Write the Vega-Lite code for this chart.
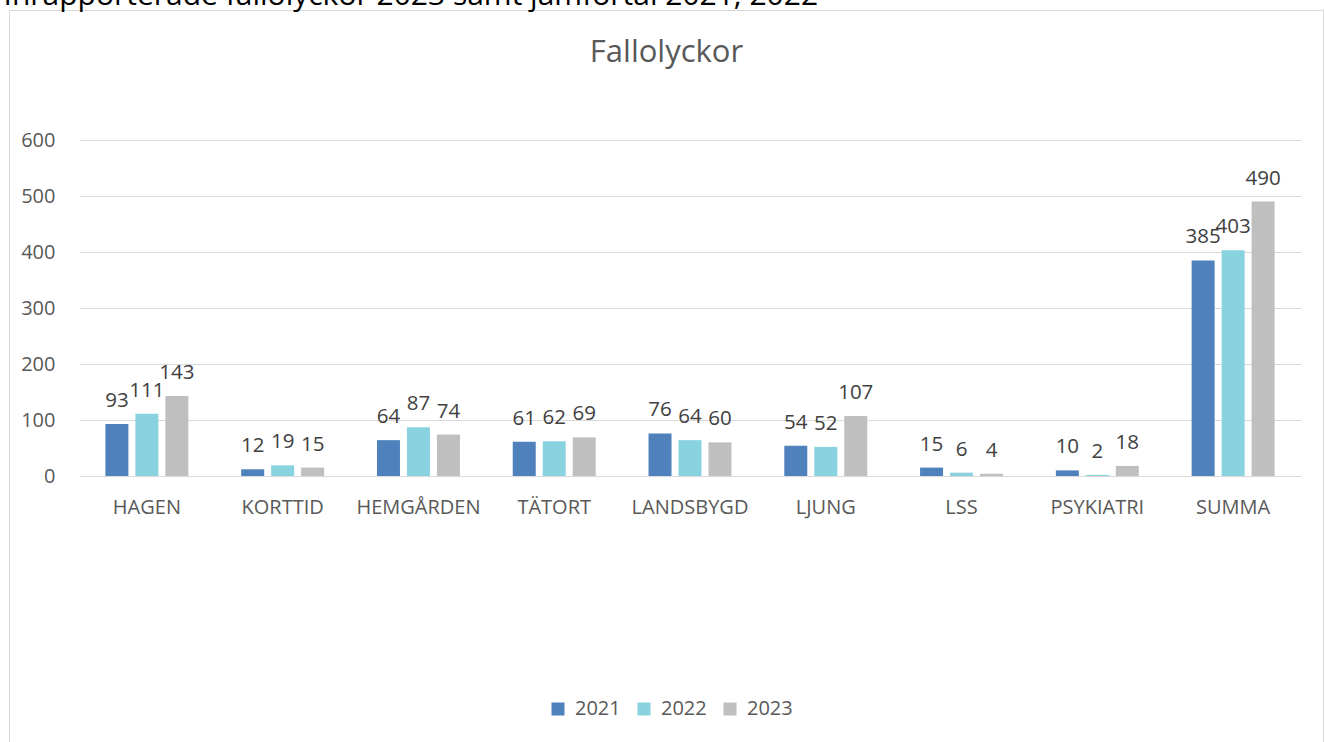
{
  "$schema": "https://vega.github.io/schema/vega-lite/v6.json",
  "autosize": {"type": "none"},
  "padding": {"left": 9, "top": 10, "right": 2, "bottom": 0},
  "width": 1314,
  "height": 740,
  "background": "white",
  "config": {
    "font": "Open Sans",
    "view": {"stroke": "#d9d9d9", "strokeWidth": 1}
  },
  "data": {
    "values": [
      {"enhet": "HAGEN", "ar": "2021", "antal": 93},
      {"enhet": "HAGEN", "ar": "2022", "antal": 111},
      {"enhet": "HAGEN", "ar": "2023", "antal": 143},
      {"enhet": "KORTTID", "ar": "2021", "antal": 12},
      {"enhet": "KORTTID", "ar": "2022", "antal": 19},
      {"enhet": "KORTTID", "ar": "2023", "antal": 15},
      {"enhet": "HEMGÅRDEN", "ar": "2021", "antal": 64},
      {"enhet": "HEMGÅRDEN", "ar": "2022", "antal": 87},
      {"enhet": "HEMGÅRDEN", "ar": "2023", "antal": 74},
      {"enhet": "TÄTORT", "ar": "2021", "antal": 61},
      {"enhet": "TÄTORT", "ar": "2022", "antal": 62},
      {"enhet": "TÄTORT", "ar": "2023", "antal": 69},
      {"enhet": "LANDSBYGD", "ar": "2021", "antal": 76},
      {"enhet": "LANDSBYGD", "ar": "2022", "antal": 64},
      {"enhet": "LANDSBYGD", "ar": "2023", "antal": 60},
      {"enhet": "LJUNG", "ar": "2021", "antal": 54},
      {"enhet": "LJUNG", "ar": "2022", "antal": 52},
      {"enhet": "LJUNG", "ar": "2023", "antal": 107},
      {"enhet": "LSS", "ar": "2021", "antal": 15},
      {"enhet": "LSS", "ar": "2022", "antal": 6},
      {"enhet": "LSS", "ar": "2023", "antal": 4},
      {"enhet": "PSYKIATRI", "ar": "2021", "antal": 10},
      {"enhet": "PSYKIATRI", "ar": "2022", "antal": 2},
      {"enhet": "PSYKIATRI", "ar": "2023", "antal": 18},
      {"enhet": "SUMMA", "ar": "2021", "antal": 385},
      {"enhet": "SUMMA", "ar": "2022", "antal": 403},
      {"enhet": "SUMMA", "ar": "2023", "antal": 490}
    ]
  },
  "encoding": {
    "x": {
      "field": "enhet",
      "type": "nominal",
      "sort": null,
      "scale": {"range": [70, 1292], "paddingInner": 0.389, "paddingOuter": 0.1945},
      "axis": {
        "orient": "bottom",
        "offset": -274,
        "domain": false,
        "ticks": false,
        "tickSize": 0,
        "labelAngle": 0,
        "labelBaseline": "alphabetic",
        "labelPadding": 37,
        "labelFontSize": 20,
        "labelColor": "#595959",
        "title": "Fallolyckor",
        "titleX": 657,
        "titleY": -415,
        "titleAlign": "center",
        "titleBaseline": "alphabetic",
        "titleFontSize": 31,
        "titleFontWeight": "normal",
        "titleColor": "#595959"
      }
    },
    "xOffset": {
      "field": "ar",
      "type": "nominal",
      "scale": {"paddingInner": 0.233, "paddingOuter": 0}
    },
    "y": {
      "field": "antal",
      "type": "quantitative",
      "scale": {"domain": [0, 600], "range": [466, 130], "nice": false},
      "axis": {
        "values": [0, 100, 200, 300, 400, 500, 600],
        "offset": -62,
        "domain": false,
        "ticks": false,
        "tickSize": 0,
        "labelPadding": 16,
        "labelFontSize": 20,
        "labelColor": "#595959",
        "grid": true,
        "gridColor": "#d9d9d9",
        "gridWidth": 1,
        "title": "Inrapporterade fallolyckor 2023 samt jämförtal 2021, 2022",
        "titleAngle": 0,
        "titleX": -68,
        "titleY": -6,
        "titleAlign": "left",
        "titleBaseline": "alphabetic",
        "titleFontSize": 30,
        "titleFontWeight": "normal",
        "titleColor": "#000000"
      }
    }
  },
  "layer": [
    {
      "mark": {"type": "bar"},
      "encoding": {
        "color": {
          "field": "ar",
          "type": "nominal",
          "scale": {"domain": ["2021", "2022", "2023"], "range": ["#4f81bd", "#89d3e1", "#bfbfbf"]},
          "legend": {
            "orient": "none",
            "legendX": 539,
            "legendY": 689,
            "direction": "horizontal",
            "title": null,
            "symbolType": "square",
            "symbolSize": 169,
            "symbolStrokeWidth": 0,
            "labelFontSize": 20,
            "labelColor": "#595959",
            "labelOffset": 7,
            "columnPadding": 13
          }
        }
      }
    },
    {
      "mark": {"type": "text", "baseline": "alphabetic", "dy": -17, "fontSize": 20.5, "color": "#404040"},
      "encoding": {"text": {"field": "antal", "type": "quantitative"}}
    }
  ]
}
